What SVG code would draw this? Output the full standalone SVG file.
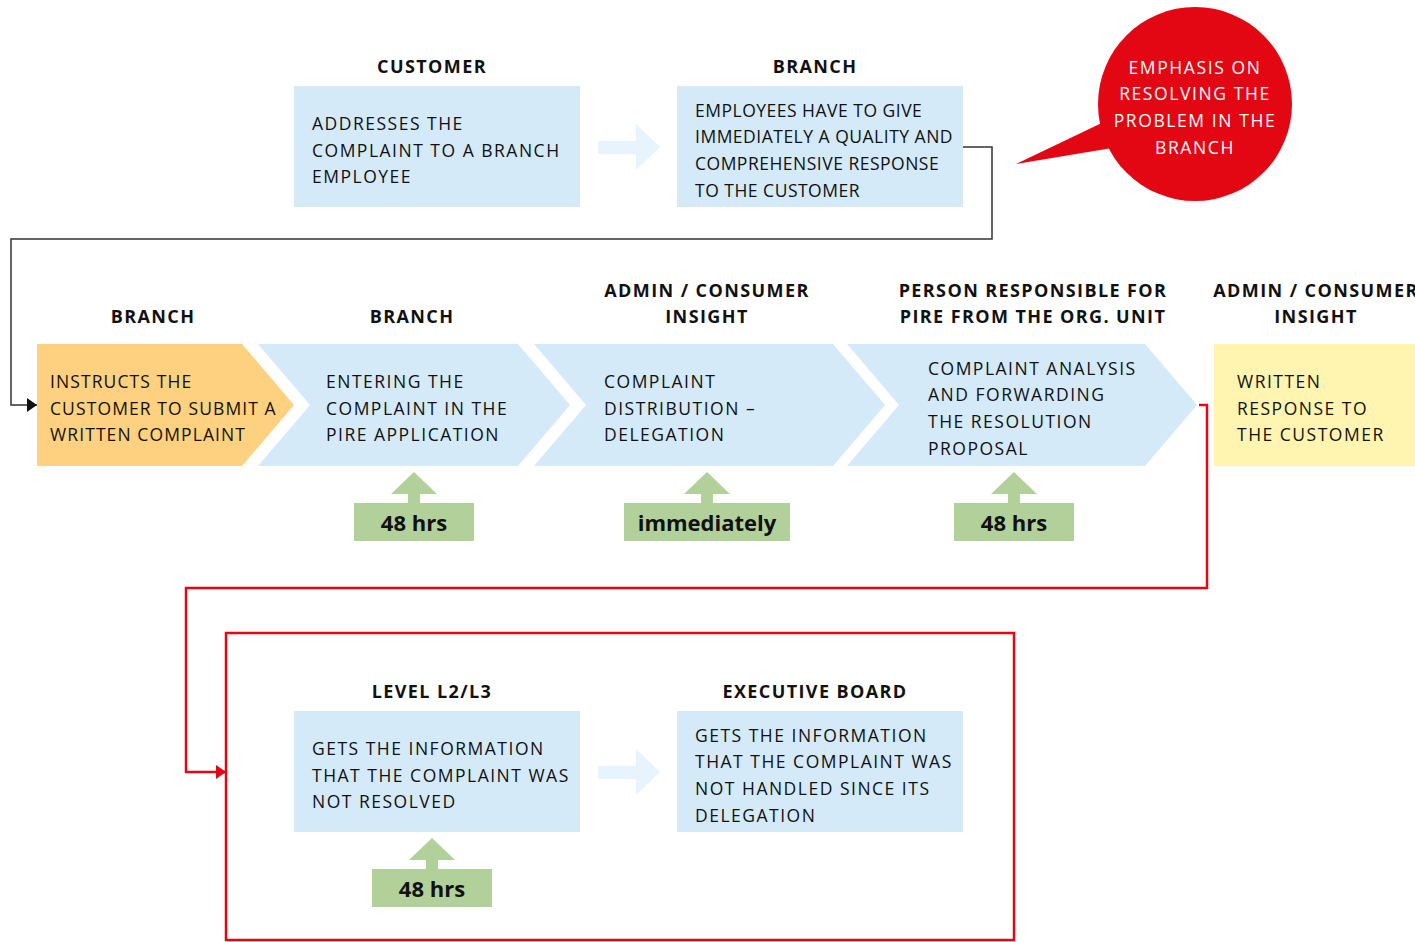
<svg xmlns="http://www.w3.org/2000/svg" width="1415" height="942" viewBox="0 0 1415 942">
<style>
.hd{font-family:"Open Sans","Noto Sans",sans-serif;font-weight:700;font-size:18px;fill:#111;text-anchor:middle;letter-spacing:1.4px}
.tx{font-family:"Open Sans","Noto Sans",sans-serif;font-size:17.5px;fill:#111;letter-spacing:1.5px}
.tt{letter-spacing:0.5px}
.to{letter-spacing:1.1px}
.wt{font-family:"Open Sans","Noto Sans",sans-serif;font-size:17.5px;fill:#fff;text-anchor:middle;letter-spacing:1.6px}
.gb{font-family:"Open Sans","Noto Sans",sans-serif;font-weight:700;font-size:22px;fill:#111;text-anchor:middle}
.blue{fill:#d4eaf9}
.green{fill:#b2d09a}
.la{fill:#e8f4fd}
</style>
<defs>
<marker id="mk" markerWidth="10" markerHeight="14" refX="10" refY="7" orient="auto" markerUnits="userSpaceOnUse"><path d="M0,0 L10,7 L0,14 Z" fill="#111"/></marker>
<marker id="mr" markerWidth="10" markerHeight="14" refX="10" refY="7" orient="auto" markerUnits="userSpaceOnUse"><path d="M0,0 L10,7 L0,14 Z" fill="#e30613"/></marker>
</defs>
<rect width="1415" height="942" fill="#fff"/>

<g id="connectors">
<path d="M963,147 H992 V239 H11 V405 H37" fill="none" stroke="#333" stroke-width="1.5" marker-end="url(#mk)"/>
<path d="M1199,405 H1207 V588 H186 V772 H226" fill="none" stroke="#e30613" stroke-width="2.5" marker-end="url(#mr)"/>
<path class="la" d="M598,141 H636 V124 L660,147 L636,170 V154 H598 Z"/>
<path class="la" d="M598,766 H636 V749 L660,772 L636,795 V779 H598 Z"/>
</g>

<g id="customer">
<text class="hd" x="432" y="73">CUSTOMER</text>
<rect class="blue" x="294" y="86" width="286" height="121"/>
<text class="tx" x="312" y="130">ADDRESSES THE</text>
<text class="tx" x="312" y="157">COMPLAINT TO A BRANCH</text>
<text class="tx" x="312" y="183">EMPLOYEE</text>
</g>

<g id="branch-top">
<text class="hd" x="815" y="73">BRANCH</text>
<rect class="blue" x="677" y="86" width="286" height="121"/>
<text class="tx tt" x="695" y="117">EMPLOYEES HAVE TO GIVE</text>
<text class="tx tt" x="695" y="143">IMMEDIATELY A QUALITY AND</text>
<text class="tx tt" x="695" y="170">COMPREHENSIVE RESPONSE</text>
<text class="tx tt" x="695" y="197">TO THE CUSTOMER</text>
</g>

<g id="emphasis">
<circle cx="1195" cy="104" r="97" fill="#e30613"/>
<path d="M1016,164 L1108,120 L1112,148 Z" fill="#e30613"/>
<text class="wt" x="1195" y="74">EMPHASIS ON</text>
<text class="wt" x="1195" y="100">RESOLVING THE</text>
<text class="wt" x="1195" y="127">PROBLEM IN THE</text>
<text class="wt" x="1195" y="154">BRANCH</text>
</g>

<g id="instructs">
<text class="hd" x="153" y="323">BRANCH</text>
<path d="M37,344 H242 L294,405 L242,466 H37 Z" fill="#fdd17f"/>
<text class="tx to" x="50" y="388">INSTRUCTS THE</text>
<text class="tx to" x="50" y="415">CUSTOMER TO SUBMIT A</text>
<text class="tx to" x="50" y="441">WRITTEN COMPLAINT</text>
</g>

<g id="entering">
<text class="hd" x="412" y="323">BRANCH</text>
<path class="blue" d="M258,344 H518 L570,405 L518,466 H258 L310,405 Z"/>
<text class="tx" x="326" y="388">ENTERING THE</text>
<text class="tx" x="326" y="415">COMPLAINT IN THE</text>
<text class="tx" x="326" y="441">PIRE APPLICATION</text>
<path class="green" d="M414,472 L437,494 H420 V503 H408 V494 H391 Z"/>
<rect class="green" x="354" y="503" width="120" height="38"/>
<text class="gb" x="414" y="531">48 hrs</text>
</g>

<g id="distribution">
<text class="hd" x="707" y="297">ADMIN / CONSUMER</text>
<text class="hd" x="707" y="323">INSIGHT</text>
<path class="blue" d="M534,344 H833 L885,405 L833,466 H534 L586,405 Z"/>
<text class="tx" x="604" y="388">COMPLAINT</text>
<text class="tx" x="604" y="415">DISTRIBUTION –</text>
<text class="tx" x="604" y="441">DELEGATION</text>
<path class="green" d="M707,472 L730,494 H713 V503 H701 V494 H684 Z"/>
<rect class="green" x="624" y="503" width="166" height="38"/>
<text class="gb" x="707" y="531">immediately</text>
</g>

<g id="analysis">
<text class="hd" x="1033" y="297">PERSON RESPONSIBLE FOR</text>
<text class="hd" x="1033" y="323">PIRE FROM THE ORG. UNIT</text>
<path class="blue" d="M847,344 H1145 L1197,405 L1145,466 H847 L899,405 Z"/>
<text class="tx" x="928" y="375">COMPLAINT ANALYSIS</text>
<text class="tx" x="928" y="401">AND FORWARDING</text>
<text class="tx" x="928" y="428">THE RESOLUTION</text>
<text class="tx" x="928" y="455">PROPOSAL</text>
<path class="green" d="M1014,472 L1037,494 H1020 V503 H1008 V494 H991 Z"/>
<rect class="green" x="954" y="503" width="120" height="38"/>
<text class="gb" x="1014" y="531">48 hrs</text>
</g>

<g id="written">
<text class="hd" x="1316" y="297">ADMIN / CONSUMER</text>
<text class="hd" x="1316" y="323">INSIGHT</text>
<rect x="1214" y="344" width="201" height="122" fill="#fff5b0"/>
<text class="tx" x="1237" y="388">WRITTEN</text>
<text class="tx" x="1237" y="415">RESPONSE TO</text>
<text class="tx" x="1237" y="441">THE CUSTOMER</text>
</g>

<g id="escalation-frame">
<rect x="226" y="633" width="788" height="307" fill="none" stroke="#e30613" stroke-width="2.5"/>
</g>

<g id="level">
<text class="hd" x="432" y="698">LEVEL L2/L3</text>
<rect class="blue" x="294" y="711" width="286" height="121"/>
<text class="tx" x="312" y="755">GETS THE INFORMATION</text>
<text class="tx" x="312" y="782">THAT THE COMPLAINT WAS</text>
<text class="tx" x="312" y="808">NOT RESOLVED</text>
<path class="green" d="M432,838 L455,860 H438 V869 H426 V860 H409 Z"/>
<rect class="green" x="372" y="869" width="120" height="38"/>
<text class="gb" x="432" y="897">48 hrs</text>
</g>

<g id="executive">
<text class="hd" x="815" y="698">EXECUTIVE BOARD</text>
<rect class="blue" x="677" y="711" width="286" height="121"/>
<text class="tx" x="695" y="742">GETS THE INFORMATION</text>
<text class="tx" x="695" y="768">THAT THE COMPLAINT WAS</text>
<text class="tx" x="695" y="795">NOT HANDLED SINCE ITS</text>
<text class="tx" x="695" y="822">DELEGATION</text>
</g>
</svg>
